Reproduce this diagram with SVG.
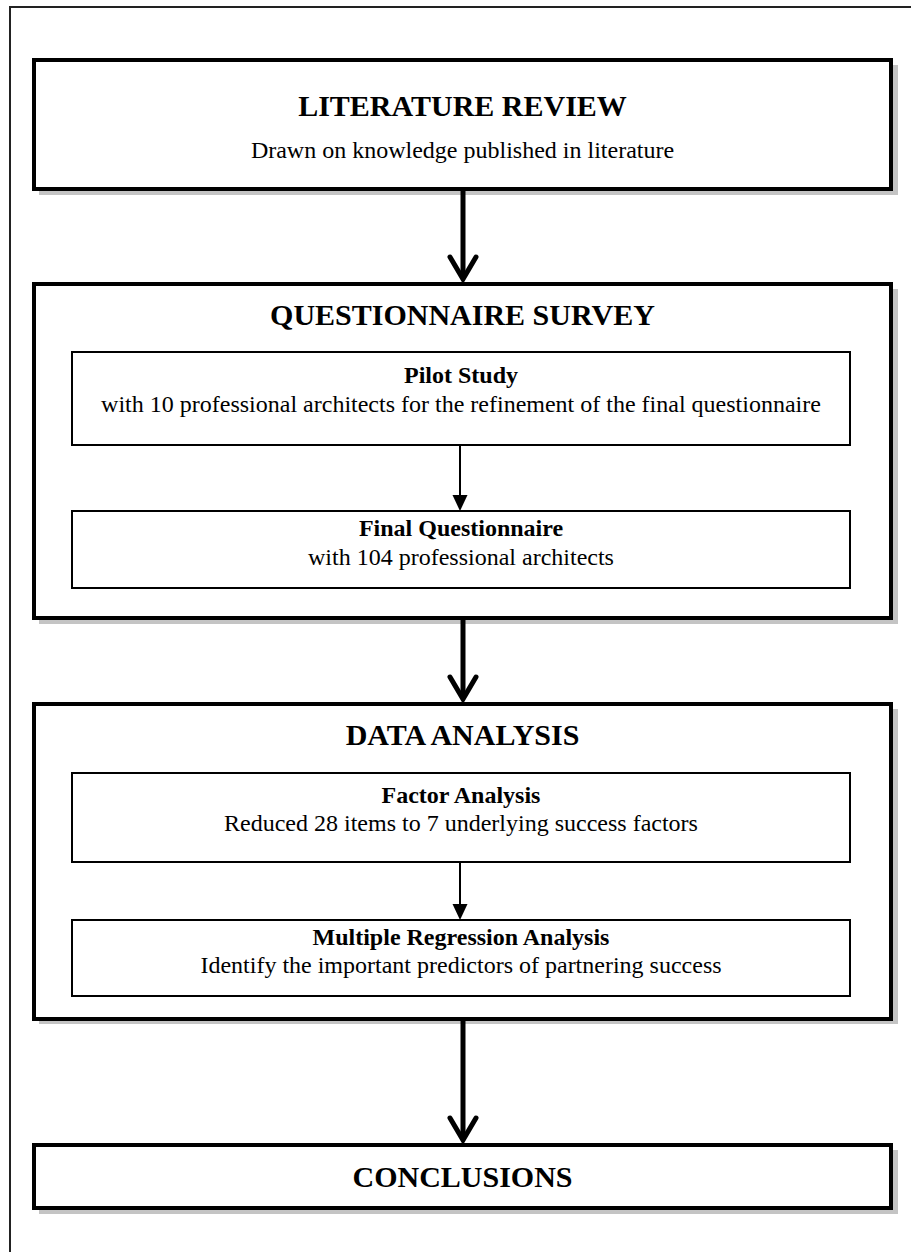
<svg xmlns="http://www.w3.org/2000/svg" width="911" height="1252" viewBox="0 0 911 1252">
  <style>
    .frame { fill: none; stroke: #222; stroke-width: 2; }
    .shadow { fill: #c4c4c4; }
    .stage { fill: #fff; stroke: #000; stroke-width: 4; }
    .step { fill: #fff; stroke: #000; stroke-width: 2; }
    .title { font-family: "Liberation Serif", "Times New Roman", serif; font-weight: bold; font-size: 30px; text-anchor: middle; fill: #000; }
    .sub { font-family: "Liberation Serif", "Times New Roman", serif; font-weight: bold; font-size: 24px; text-anchor: middle; fill: #000; }
    .body { font-family: "Liberation Serif", "Times New Roman", serif; font-size: 24px; text-anchor: middle; fill: #000; }
    .bigshaft { stroke: #000; stroke-width: 5; fill: none; }
    .bighead { stroke: #000; stroke-width: 5; fill: none; stroke-linecap: round; stroke-linejoin: miter; }
    .thin { stroke: #000; stroke-width: 2; fill: none; }
  </style>

  <rect width="911" height="1252" fill="#fff"/>
  <!-- page frame, open to the right and bottom -->
  <rect class="frame" x="10" y="7" width="1000" height="1400"/>

  <g id="literature-review">
    <rect class="shadow" x="39" y="65" width="859" height="130"/>
    <rect class="stage" x="34" y="60" width="857" height="129"/>
    <text class="title" x="462.5" y="116">LITERATURE REVIEW</text>
    <text class="body" x="462.5" y="158">Drawn on knowledge published in literature</text>
  </g>

  <g id="questionnaire-survey">
    <rect class="shadow" x="39" y="289" width="859" height="335"/>
    <rect class="stage" x="34" y="284" width="857" height="334"/>
    <text class="title" x="462.5" y="325">QUESTIONNAIRE SURVEY</text>
    <g id="pilot-study">
      <rect class="step" x="72" y="352" width="778" height="93"/>
      <text class="sub" x="461" y="383">Pilot Study</text>
      <text class="body" x="461" y="412">with 10 professional architects for the refinement of the final questionnaire</text>
    </g>
    <g id="final-questionnaire">
      <rect class="step" x="72" y="511" width="778" height="77"/>
      <text class="sub" x="461" y="536">Final Questionnaire</text>
      <text class="body" x="461" y="565">with 104 professional architects</text>
    </g>
  </g>

  <g id="data-analysis">
    <rect class="shadow" x="39" y="709" width="859" height="315"/>
    <rect class="stage" x="34" y="704" width="857" height="315"/>
    <text class="title" x="462.5" y="745">DATA ANALYSIS</text>
    <g id="factor-analysis">
      <rect class="step" x="72" y="773" width="778" height="89"/>
      <text class="sub" x="461" y="803">Factor Analysis</text>
      <text class="body" x="461" y="831">Reduced 28 items to 7 underlying success factors</text>
    </g>
    <g id="regression-analysis">
      <rect class="step" x="72" y="920" width="778" height="76"/>
      <text class="sub" x="461" y="945">Multiple Regression Analysis</text>
      <text class="body" x="461" y="973">Identify the important predictors of partnering success</text>
    </g>
  </g>

  <g id="conclusions">
    <rect class="shadow" x="39" y="1150" width="859" height="64"/>
    <rect class="stage" x="34" y="1145" width="857" height="63"/>
    <text class="title" x="462.5" y="1187">CONCLUSIONS</text>
  </g>

  <g id="connectors">
    <!-- stage to stage: thick shaft with open chevron head -->
    <line class="bigshaft" x1="463" y1="191" x2="463" y2="278"/>
    <polyline class="bighead" points="450,257 463,279 476,257"/>
    <line class="bigshaft" x1="463" y1="620" x2="463" y2="698"/>
    <polyline class="bighead" points="450,677 463,699 476,677"/>
    <line class="bigshaft" x1="463" y1="1021" x2="463" y2="1139"/>
    <polyline class="bighead" points="450,1118 463,1140 476,1118"/>
    <!-- step to step inside a stage -->
    <line class="thin" x1="460" y1="445" x2="460" y2="496"/>
    <path d="M452.5,495 L467.5,495 L460,511 Z" fill="#000"/>
    <line class="thin" x1="460" y1="862" x2="460" y2="905"/>
    <path d="M452.5,904 L467.5,904 L460,920 Z" fill="#000"/>
  </g>
</svg>
